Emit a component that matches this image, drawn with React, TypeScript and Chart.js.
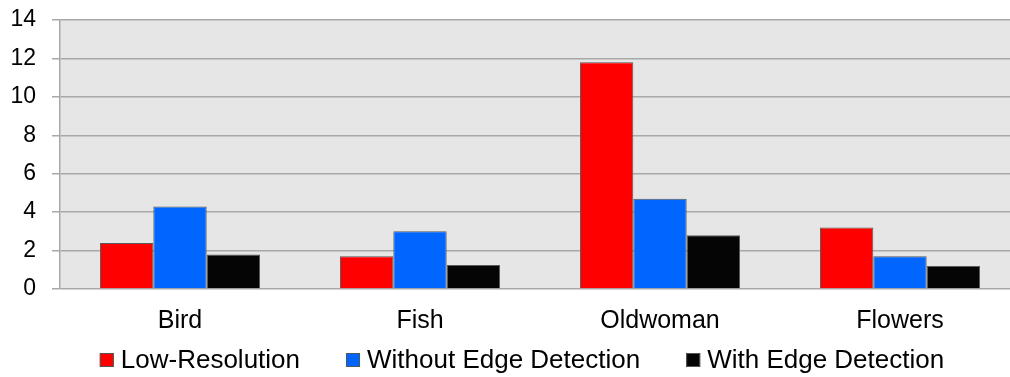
import React, { useEffect, useRef } from "react";
import { Chart, registerables } from "chart.js";

Chart.register(...registerables);

const categories = ["Bird", "Fish", "Oldwoman", "Flowers"];
const lowResolution = [2.4, 1.7, 11.8, 3.2];
const withoutEdgeDetection = [4.3, 3.0, 4.7, 1.7];
const withEdgeDetection = [1.8, 1.25, 2.8, 1.2];
const seriesLabels = ["Low-Resolution", "Without Edge Detection", "With Edge Detection"];
const seriesColors = ["#ff0000", "#0066ff", "#050505"];

const FONT = "'Liberation Sans', Arial, sans-serif";

// Fills the plotting area with the light grey panel
const panelBackground = {
  id: "panelBackground",
  beforeDraw(chart: any) {
    const { ctx, chartArea } = chart;
    ctx.save();
    ctx.fillStyle = "#e6e6e6";
    ctx.fillRect(chartArea.left, chartArea.top, chartArea.right - chartArea.left, chartArea.bottom - chartArea.top);
    ctx.restore();
  },
};

// Legend row: small square swatch, then the label, items centred below the axis
const bottomLegend = {
  id: "bottomLegend",
  afterDraw(chart: any) {
    const { ctx } = chart;
    const box = 14;
    const boxGap = 7;
    const itemGap = 46;
    const centerX = 522;
    const centerY = 360;
    ctx.save();
    ctx.font = `26px ${FONT}`;
    const items = chart.data.datasets.map((ds: any) => ({
      label: ds.label as string,
      color: ds.backgroundColor as string,
      w: ctx.measureText(ds.label).width,
    }));
    const total = items.reduce((s: number, it: any) => s + box + boxGap + it.w, 0) + itemGap * (items.length - 1);
    let x = centerX - total / 2;
    ctx.textBaseline = "middle";
    ctx.textAlign = "left";
    for (const it of items) {
      ctx.fillStyle = it.color;
      ctx.fillRect(x, centerY - box / 2, box, box);
      ctx.strokeStyle = "#555555";
      ctx.lineWidth = 1;
      ctx.strokeRect(x + 0.5, centerY - box / 2 + 0.5, box - 1, box - 1);
      ctx.fillStyle = "#000000";
      ctx.fillText(it.label, x + box + boxGap, centerY + 1);
      x += box + boxGap + it.w + itemGap;
    }
    ctx.restore();
  },
};

export default function App() {
  const canvasRef = useRef<HTMLCanvasElement | null>(null);

  useEffect(() => {
    if (!canvasRef.current) return;
    const values = [lowResolution, withoutEdgeDetection, withEdgeDetection];
    const chart = new Chart(canvasRef.current, {
      type: "bar",
      data: {
        labels: categories,
        datasets: values.map((data, i) => ({
          label: seriesLabels[i],
          data,
          backgroundColor: seriesColors[i],
          borderColor: "#5a5a5a",
          borderWidth: 1,
          categoryPercentage: 0.667,
          barPercentage: 1,
        })),
      },
      options: {
        animation: false,
        responsive: false,
        maintainAspectRatio: false,
        layout: { padding: { top: 20, right: 0, bottom: 40, left: 0 } },
        plugins: {
          legend: { display: false },
          tooltip: { enabled: false },
        },
        scales: {
          x: {
            grid: { display: false },
            border: { display: false },
            ticks: {
              color: "#000000",
              padding: 9,
              font: { family: FONT, size: 25 },
            },
            afterFit(scale: any) {
              scale.height = 48;
              scale.paddingLeft = 0;
              scale.paddingRight = 0;
            },
          },
          y: {
            min: 0,
            max: 14,
            ticks: {
              stepSize: 2,
              color: "#000000",
              padding: 16,
              font: { family: FONT, size: 23 },
            },
            grid: {
              color: "#a8a8a8",
              lineWidth: 1.5,
              tickLength: 8,
              drawTicks: true,
            },
            border: { display: true, color: "#a8a8a8", width: 1.5 },
            afterFit(scale: any) {
              scale.width = 60;
              scale.paddingTop = 0;
              scale.paddingBottom = 0;
            },
          },
        },
      },
      plugins: [panelBackground, bottomLegend],
    });
    return () => chart.destroy();
  }, []);

  return (
    <div style={{ position: "fixed", left: 0, top: 0, width: 1010, height: 377, overflow: "hidden", background: "#ffffff" }}>
      <canvas ref={canvasRef} width={1020} height={377} style={{ display: "block" }} />
    </div>
  );
}
